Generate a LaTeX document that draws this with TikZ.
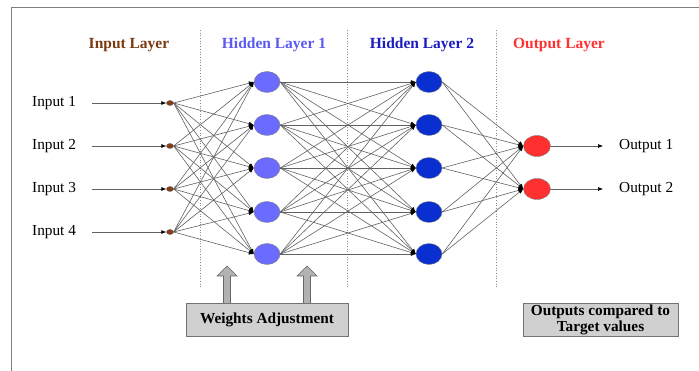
\documentclass[tikz,border=0pt]{standalone}
\usepackage{fontspec}
\setmainfont{Liberation Serif}
\usetikzlibrary{arrows.meta,shapes.geometric}
\definecolor{inbrown}{HTML}{8B3A12}
\definecolor{hdrbrown}{HTML}{7B3A10}
\definecolor{hone}{HTML}{6B6BFF}
\definecolor{honetxt}{HTML}{5A5AF0}
\definecolor{htwo}{HTML}{0A2FD0}
\definecolor{htwotxt}{HTML}{1C1CC0}
\definecolor{outred}{HTML}{FF3030}
\definecolor{boxgray}{HTML}{D0D0D0}
\begin{document}
\begin{tikzpicture}[x=1pt,y=-1pt,
  txt/.style={font=\fontsize{15.3}{17}\selectfont, inner sep=0pt},
  hdr/.style={font=\fontsize{15.5}{17}\selectfont\bfseries, inner sep=0pt},
  innode/.style={ellipse, draw=black!60, fill=inbrown, minimum width=7pt, minimum height=5pt, inner sep=0pt},
  neuron/.style={ellipse, draw=black!50, minimum width=26pt, minimum height=21pt, inner sep=0pt},
  conn/.style={draw=black!62, line width=0.6pt, -{Latex[length=5pt,width=4pt,color=black]}},
  sep/.style={draw=black!45, dotted, line width=0.7pt},
  infobox/.style={draw=black!55, fill=boxgray, line width=0.8pt, font=\fontsize{15.3}{16}\selectfont\bfseries, align=center, inner sep=0pt},
  blockarrow/.style={draw=black!60, fill=black!30, line width=0.6pt}
]
\useasboundingbox (0,0) rectangle (699,371);
% frame
\draw[black!50, line width=0.8pt] (699,7) -- (11,7) -- (11,371);
% separators
\draw[sep] (200,30) -- (200,287);
\draw[sep] (347,30) -- (347,287);
\draw[sep] (496,30) -- (496,287);
% headers
\node[hdr, text=hdrbrown] (hin) at (129,45) {Input Layer};
\node[hdr, text=honetxt] (hh1) at (274,45) {Hidden Layer 1};
\node[hdr, text=htwotxt] (hh2) at (422,45) {Hidden Layer 2};
\node[hdr, text=outred] (hout) at (559,45) {Output Layer};
% input nodes and labels
\foreach \i/\y in {1/103,2/146,3/189,4/232}{
  \node[innode] (i\i) at (170,\y) {};
  \node[txt, anchor=west] (l\i) at (32,\y) {Input \i};
  \coordinate (s\i) at (92,\y);
  \draw[conn] (s\i) -- (i\i.west);
}
% hidden layers
\foreach \j/\y in {1/82,2/125,3/168,4/212,5/254}{
  \node[neuron, fill=hone] (a\j) at (267,\y) {};
  \node[neuron, fill=htwo] (b\j) at (429,\y) {};
}
% output nodes
\foreach \k/\y in {1/146,2/189}{
  \node[neuron, fill=outred, minimum width=27pt] (o\k) at (537,\y) {};
  \coordinate (e\k) at (603,\y);
  \draw[conn] (o\k.east) -- (e\k);
  \node[txt, anchor=west] (ol\k) at (619,\y) {Output \k};
}
% connections
\foreach \i in {1,...,4}{\foreach \j in {1,...,5}{\draw[conn] (i\i.east) -- (a\j.west);}}
\foreach \i in {1,...,5}{\foreach \j in {1,...,5}{\draw[conn] (a\i.east) -- (b\j.west);}}
\foreach \i in {1,...,5}{\foreach \k in {1,2}{\draw[conn] (b\i.east) -- (o\k.west);}}
% boxes
\node[infobox, minimum width=162pt, minimum height=33pt] (wa) at (267,319.5) {Weights Adjustment};
\node[infobox, minimum width=155pt, minimum height=33pt] (oc) at (600.5,319.5) {Outputs compared to\\Target values};
% block arrows
\foreach \x in {227,307}{
  \draw[blockarrow] (\x-3.5,303) -- (\x-3.5,276) -- (\x-10,276) -- (\x,266) -- (\x+10,276) -- (\x+3.5,276) -- (\x+3.5,303);
}
\end{tikzpicture}
\end{document}
